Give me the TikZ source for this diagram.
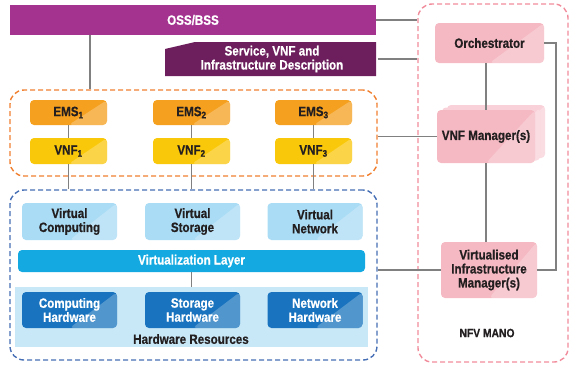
\documentclass[tikz,border=0pt]{standalone}
\usepackage{fontspec}
\setmainfont{Liberation Sans}[FakeStretch=0.86,BoldFeatures={FakeBold=0.6}]

\definecolor{ossc}{RGB}{163,51,143}
\definecolor{descc}{RGB}{108,31,92}
\definecolor{vnfline}{RGB}{240,128,48}
\definecolor{emsc}{RGB}{245,160,30}
\definecolor{vnfc}{RGB}{250,200,10}
\definecolor{nfviline}{RGB}{70,110,180}
\definecolor{vboxc}{RGB}{170,220,245}
\definecolor{vlc}{RGB}{20,170,225}
\definecolor{hrbgc}{RGB}{200,232,248}
\definecolor{hwc}{RGB}{25,115,190}
\definecolor{manoline}{RGB}{240,140,155}
\definecolor{manoc}{RGB}{245,185,195}
\definecolor{manoback}{RGB}{249,210,217}
\definecolor{linec}{RGB}{128,128,128}
\definecolor{txtc}{RGB}{35,31,32}

\tikzset{
  size/.style 2 args={minimum width=#1pt,minimum height=#2pt,inner sep=0pt},
  lbl/.style={font=\bfseries\fontsize{13.5}{14}\selectfont,align=center,text=txtc},
  container/.style={dash pattern=on 5pt off 3pt,line width=1.4pt,rounded corners=14pt},
  unit/.style={lbl,rounded corners=4pt,
    path picture={\fill[white,opacity=.25] (path picture bounding box.south)
      -- (path picture bounding box.north east) -- (path picture bounding box.south east) -- cycle;}},
  link/.style={draw=linec,line width=1.6pt}
}

\begin{document}
\begin{tikzpicture}[x=1pt,y=-1pt]
\useasboundingbox (0,0) rectangle (569,365);

\node[container,draw=manoline,size={150}{358}] (mano) at (493,183) {};
\node[container,draw=vnfline,size={367}{86}] (vnfbox) at (193.5,133) {};
\node[container,draw=nfviline,size={367}{170}] (nfvi) at (193.5,275) {};

\node[lbl,fill=ossc,text=white,size={366}{30}] (oss) at (193,20) {OSS/BSS};
\fill[descc] (165,49) -- (195,42) -- (376,42) -- (376,76) -- (165,76) -- cycle;
\node[lbl,text=white,size={211}{34}] (desc) at (272,59) {Service, VNF and\\Infrastructure Description};

\foreach \i/\x in {1/68.5,2/191.5,3/313.5}{
  \node[unit,fill=emsc,size={77}{25}] (ems\i) at (\x,112.5) {EMS\textsubscript{\i}};
  \node[unit,fill=vnfc,size={77}{26}] (vnf\i) at (\x,151) {VNF\textsubscript{\i}};
  \draw[link] (ems\i) -- (vnf\i);
  \draw[link] (vnf\i) -- (vnf\i |- nfvi.north);
}

\foreach \n/\x/\t in {vc/69.5/Computing,vs/192.5/Storage,vn/315/Network}
  \node[unit,fill=vboxc,size={95}{37}] (\n) at (\x,221.5) {Virtual\\\t};

\node[lbl,fill=vlc,text=white,rounded corners=4pt,size={347}{22}] (vl) at (191.5,261) {Virtualization Layer};
\node[fill=hrbgc,size={353}{60}] (hw) at (191.5,317) {};
\foreach \n/\x/\t in {ch/69.5/Computing,sh/192.5/Storage,nh/315/Network}
  \node[unit,fill=hwc,text=white,size={95}{36}] (\n) at (\x,310) {\t\\Hardware};
\node[lbl] (hwlabel) at (191,339) {Hardware Resources};
\draw[link] (vl.south) -- (vl.south |- hw.north);

\node[unit,fill=manoc,size={109}{40}] (orch) at (489.5,43) {Orchestrator};
\foreach \d in {10,5}
  \node[unit,fill=manoback,size={98}{53}] (vnfmb\d) at (486+\d,136.5-\d/2) {};
\node[unit,fill=manoc,size={98}{53}] (vnfm) at (486,136.5) {VNF Manager(s)};
\node[unit,fill=manoc,size={96}{56}] (vim) at (489,270) {Virtualised\\Infrastructure\\Manager(s)};
\node[lbl,font=\bfseries\fontsize{12}{13}\selectfont] (manolabel) at (487,333) {NFV MANO};

\coordinate (ossdrop) at (90,0);
\draw[link] (oss.south -| ossdrop) -- (vnfbox.north -| ossdrop);
\draw[link] (oss.east) -- (oss.east -| mano.west);
\draw[link] (desc.east) -- (desc.east -| mano.west);
\draw[link] (vnfbox.east |- vnfm.west) -- (vnfm.west);
\draw[link] (nfvi.east |- vim.west) -- (vim.west);
\draw[link] (vnfm.north) -- (vnfm.north |- orch.south);
\draw[link] (vnfm.south) -- (vnfm.south |- vim.north);
\draw[link] (orch.east) -- ++(12,0) |- (vim.east);
\end{tikzpicture}
\end{document}
